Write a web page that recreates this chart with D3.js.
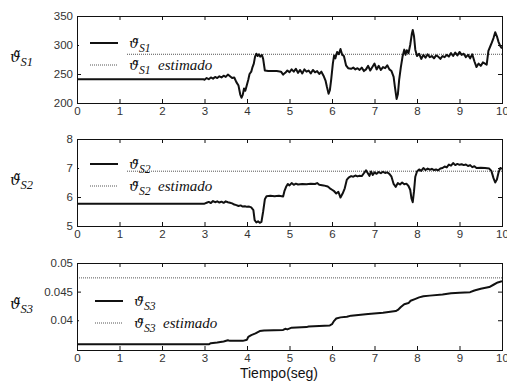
<!DOCTYPE html>
<html>
<head>
<meta charset="utf-8">
<script src="https://cdn.jsdelivr.net/npm/d3@7"></script>
<style>
  body { margin: 0; background: #fff; }
  svg { display: block; }
</style>
</head>
<body>
<svg id="chart"></svg>
<script>
// ─── data ───
const xTicks = [0, 1, 2, 3, 4, 5, 6, 7, 8, 9, 10]

const s1Ticks = [200, 250, 300, 350]
const s1Est = 284
const s1 = [
  [0,241],[2.98,241],[3.0,240],[3.05,243],[3.1,241],[3.15,244],[3.2,242],[3.25,245],[3.3,243],[3.35,246],
  [3.4,244],[3.45,247],[3.5,245],[3.55,249],[3.6,246],[3.65,243],[3.7,244],[3.75,236],[3.8,230],[3.84,215],
  [3.87,209],[3.9,214],[3.93,225],[3.96,221],[4.0,232],[4.03,240],[4.06,250],[4.1,254],[4.13,262],[4.16,268],
  [4.19,280],[4.22,285],[4.25,281],[4.28,284],[4.31,280],[4.35,283],[4.38,276],[4.42,256],[4.5,255],[4.6,255],
  [4.7,255],[4.8,254],[4.85,249],[4.9,252],[4.95,256],[5.0,253],[5.05,258],[5.1,254],[5.15,259],[5.2,252],
  [5.25,257],[5.3,251],[5.35,258],[5.4,254],[5.45,256],[5.5,251],[5.55,257],[5.6,253],[5.65,255],[5.7,250],
  [5.75,254],[5.8,247],[5.85,238],[5.88,228],[5.92,216],[5.95,222],[5.98,240],[6.02,268],[6.05,282],[6.08,277],
  [6.12,288],[6.16,284],[6.2,293],[6.24,283],[6.28,281],[6.33,265],[6.38,260],[6.45,259],[6.5,261],[6.55,258],
  [6.6,260],[6.65,257],[6.7,261],[6.75,255],[6.8,258],[6.85,264],[6.9,256],[6.95,262],[7.0,268],[7.05,258],
  [7.1,264],[7.15,257],[7.2,262],[7.25,260],[7.3,265],[7.35,258],[7.4,255],[7.45,245],[7.48,228],[7.52,207],
  [7.55,215],[7.58,240],[7.62,262],[7.66,280],[7.7,292],[7.73,283],[7.76,291],[7.8,286],[7.84,300],[7.88,320],
  [7.9,326],[7.93,315],[7.96,292],[8.0,281],[8.05,285],[8.1,276],[8.15,283],[8.2,278],[8.25,284],[8.3,279],
  [8.35,281],[8.4,277],[8.45,282],[8.5,280],[8.55,276],[8.6,281],[8.65,279],[8.7,283],[8.75,280],[8.8,286],
  [8.85,281],[8.9,287],[8.95,282],[9.0,288],[9.05,283],[9.1,285],[9.15,279],[9.2,283],[9.25,277],[9.3,284],
  [9.35,272],[9.4,262],[9.45,268],[9.5,264],[9.55,270],[9.6,268],[9.64,266],[9.68,290],[9.72,297],[9.76,304],
  [9.8,312],[9.84,322],[9.88,315],[9.92,305],[9.96,298],[10.0,294]
]

const s2Ticks = [5, 6, 7, 8]
const s2Est = 6.89
const s2 = [
  [0,5.77],[3.0,5.77],[3.05,5.8],[3.1,5.83],[3.15,5.79],[3.2,5.86],[3.25,5.82],[3.3,5.85],[3.35,5.81],[3.4,5.84],
  [3.45,5.8],[3.5,5.85],[3.55,5.82],[3.6,5.8],[3.65,5.78],[3.7,5.74],[3.75,5.72],[3.8,5.69],[3.85,5.71],[3.9,5.67],
  [3.95,5.68],[4.0,5.66],[4.05,5.67],[4.1,5.64],[4.15,5.55],[4.18,5.2],[4.22,5.12],[4.26,5.16],[4.3,5.11],[4.34,5.14],
  [4.38,5.5],[4.42,5.92],[4.46,6.03],[4.55,6.04],[4.65,6.03],[4.75,6.04],[4.85,6.02],[4.88,6.2],[4.92,6.35],[4.96,6.45],
  [5.0,6.4],[5.05,6.48],[5.1,6.42],[5.15,6.46],[5.2,6.43],[5.3,6.45],[5.4,6.44],[5.5,6.46],[5.6,6.45],[5.65,6.48],
  [5.7,6.42],[5.8,6.4],[5.9,6.36],[5.95,6.3],[6.0,6.25],[6.05,6.2],[6.1,6.12],[6.15,6.18],[6.2,5.98],[6.25,6.12],
  [6.3,6.3],[6.35,6.6],[6.4,6.68],[6.45,6.72],[6.5,6.7],[6.55,6.74],[6.6,6.71],[6.65,6.73],[6.7,6.72],[6.75,6.82],
  [6.8,6.92],[6.85,6.8],[6.88,6.73],[6.92,6.88],[6.96,6.76],[7.0,6.85],[7.05,6.8],[7.1,6.86],[7.15,6.82],[7.2,6.87],
  [7.25,6.83],[7.3,6.85],[7.35,6.8],[7.4,6.7],[7.45,6.45],[7.5,6.35],[7.55,6.48],[7.6,6.43],[7.65,6.5],[7.7,6.44],
  [7.75,6.46],[7.8,6.38],[7.84,6.25],[7.87,5.95],[7.9,5.82],[7.93,6.2],[7.96,6.7],[8.0,6.88],[8.05,6.95],[8.1,6.9],
  [8.15,7.0],[8.2,6.93],[8.25,6.98],[8.3,6.94],[8.35,6.97],[8.4,6.93],[8.45,6.95],[8.5,6.92],[8.55,6.98],[8.6,7.0],
  [8.65,7.05],[8.7,7.02],[8.75,7.12],[8.8,7.08],[8.85,7.17],[8.9,7.1],[8.95,7.14],[9.0,7.11],[9.05,7.13],[9.1,7.1],
  [9.15,7.12],[9.2,7.07],[9.25,7.1],[9.3,7.03],[9.35,7.06],[9.4,7.0],[9.5,7.01],[9.6,7.0],[9.7,6.98],[9.75,6.9],
  [9.8,6.65],[9.84,6.5],[9.88,6.6],[9.92,6.85],[9.96,7.0],[10.0,6.97]
]

const s3Ticks = [0.04, 0.045, 0.05]
const s3Est = 0.0474
const s3 = [
  [0,0.0358],[3.1,0.0358],[3.15,0.0360],[3.3,0.0361],[3.45,0.0363],[3.55,0.0365],[3.6,0.0364],[3.9,0.0364],
  [4.0,0.0366],[4.03,0.0371],[4.1,0.0374],[4.2,0.0377],[4.3,0.0381],[4.4,0.0382],[4.85,0.0383],[4.9,0.0385],
  [4.95,0.0384],[5.05,0.0387],[5.4,0.0388],[5.45,0.0389],[5.95,0.0391],[6.0,0.0393],[6.05,0.0399],[6.1,0.0403],
  [6.2,0.0405],[6.35,0.0406],[6.45,0.0408],[6.85,0.0411],[7.2,0.0413],[7.5,0.0416],[7.55,0.0418],[7.62,0.0423],
  [7.7,0.0428],[7.8,0.0430],[7.85,0.0434],[7.95,0.0437],[8.05,0.0440],[8.15,0.0442],[8.3,0.0443],[8.6,0.0445],
  [8.8,0.0447],[9.0,0.0448],[9.25,0.0449],[9.35,0.0452],[9.5,0.0455],[9.7,0.0458],[9.8,0.0462],[9.9,0.0466],
  [10.0,0.0468]
]

const panels = [
  { sub: 'S1', series: s1, est: s1Est, domain: [200, 350], ticks: s1Ticks, fmt: d => d, top: 16, legY: 27, legX: 90 },
  { sub: 'S2', series: s2, est: s2Est, domain: [5, 8], ticks: s2Ticks, fmt: d => d, top: 139, legY: 25, legX: 90 },
  { sub: 'S3', series: s3, est: s3Est, domain: [0.0348, 0.05], ticks: s3Ticks, fmt: d => String(d), top: 263, legY: 38, legX: 95 },
]

const width = 507, height = 392
const left = 77, right = 502, panelH = 87
const labelFont = "'Liberation Sans', Arial, sans-serif"
const mathFont = "'Liberation Serif', 'DejaVu Serif', serif"
const thetaFont = "'DejaVu Serif', serif"

const svg = d3.select('#chart').attr('width', width).attr('height', height)

const x = d3.scaleLinear().domain([0, 10]).range([left, right])

// ϑ̃ with an italic subscript
function thetaLabel(sel, px, py, sub, size) {
  const t = sel.append('text')
    .attr('x', px).attr('y', py)
    .attr('font-family', mathFont)
    .attr('fill', '#111')
  t.append('tspan').attr('font-family', thetaFont).attr('font-style', 'italic')
    .attr('font-size', (size * 0.92) + 'px').text('\u03D1\u0303')
  t.append('tspan').attr('font-size', (size * 0.78) + 'px')
    .attr('font-style', 'italic').attr('dy', size * 0.28).text(sub)
  return t
}

panels.forEach((p, i) => {
  const y = d3.scaleLinear().domain(p.domain).range([p.top + panelH, p.top])
  const g = svg.append('g')

  const clipId = 'clip' + i
  svg.append('clipPath').attr('id', clipId)
    .append('rect').attr('x', left).attr('y', p.top).attr('width', right - left).attr('height', panelH)

  // estimated value (dotted)
  g.append('line')
    .attr('x1', left).attr('x2', right)
    .attr('y1', y(p.est)).attr('y2', y(p.est))
    .attr('stroke', '#555').attr('stroke-width', 1).attr('stroke-dasharray', '1,1')

  // measured series
  const line = d3.line().x(d => x(d[0])).y(d => y(d[1]))
  g.append('path')
    .datum(p.series)
    .attr('clip-path', `url(#${clipId})`)
    .attr('d', line)
    .attr('fill', 'none')
    .attr('stroke', '#111')
    .attr('stroke-width', 2)
    .attr('stroke-linejoin', 'round')

  // axes: ticks pointing inward on all four sides
  const styleAxis = a => a
    .call(s => s.select('.domain').remove())
    .call(s => s.selectAll('.tick line').attr('stroke', '#111'))
    .call(s => s.selectAll('.tick text')
      .attr('fill', '#333').attr('font-size', '11.5px').attr('font-family', labelFont))

  g.append('g').attr('transform', `translate(0,${p.top + panelH})`)
    .call(d3.axisBottom(x).tickValues(xTicks).tickSizeInner(-4).tickSizeOuter(0).tickPadding(4))
    .call(styleAxis)
  g.append('g').attr('transform', `translate(0,${p.top})`)
    .call(d3.axisTop(x).tickValues(xTicks).tickSizeInner(-4).tickSizeOuter(0).tickFormat(''))
    .call(styleAxis)
  g.append('g').attr('transform', `translate(${left},0)`)
    .call(d3.axisLeft(y).tickValues(p.ticks).tickSizeInner(-4).tickSizeOuter(0).tickPadding(4).tickFormat(p.fmt))
    .call(styleAxis)
  g.append('g').attr('transform', `translate(${right},0)`)
    .call(d3.axisRight(y).tickValues(p.ticks).tickSizeInner(-4).tickSizeOuter(0).tickFormat(''))
    .call(styleAxis)

  g.append('rect')
    .attr('x', left + 0.5).attr('y', p.top + 0.5)
    .attr('width', right - left).attr('height', panelH)
    .attr('fill', 'none').attr('stroke', '#111').attr('stroke-width', 1)

  // legend
  const leg = g.append('g').attr('transform', `translate(0,${p.top})`)
  leg.append('rect')
    .attr('x', left + 2).attr('y', p.legY - 8)
    .attr('width', 48).attr('height', 32)
    .attr('fill', '#fff')
  leg.append('line')
    .attr('x1', p.legX).attr('x2', p.legX + 28)
    .attr('y1', p.legY).attr('y2', p.legY)
    .attr('stroke', '#111').attr('stroke-width', 2)
  leg.append('line')
    .attr('x1', p.legX).attr('x2', p.legX + 28)
    .attr('y1', p.legY + 22).attr('y2', p.legY + 22)
    .attr('stroke', '#555').attr('stroke-width', 1).attr('stroke-dasharray', '1,1')
  const tx = p.legX + 39
  thetaLabel(leg, tx, p.legY + 5, p.sub, 15)
  const est = thetaLabel(leg, tx, p.legY + 27, p.sub, 15)
  est.append('tspan').attr('dy', -15 * 0.28).attr('font-size', '15px')
    .attr('font-style', 'italic').text('\u2002estimado')

  // y label
  thetaLabel(svg, 10, p.top + panelH / 2 + 2, p.sub, 16)
})

svg.append('text')
  .attr('x', 279).attr('y', 378)
  .attr('text-anchor', 'middle')
  .attr('font-family', labelFont)
  .attr('font-size', '14px')
  .attr('fill', '#111')
  .text('Tiempo(seg)')
</script>
</body>
</html>
